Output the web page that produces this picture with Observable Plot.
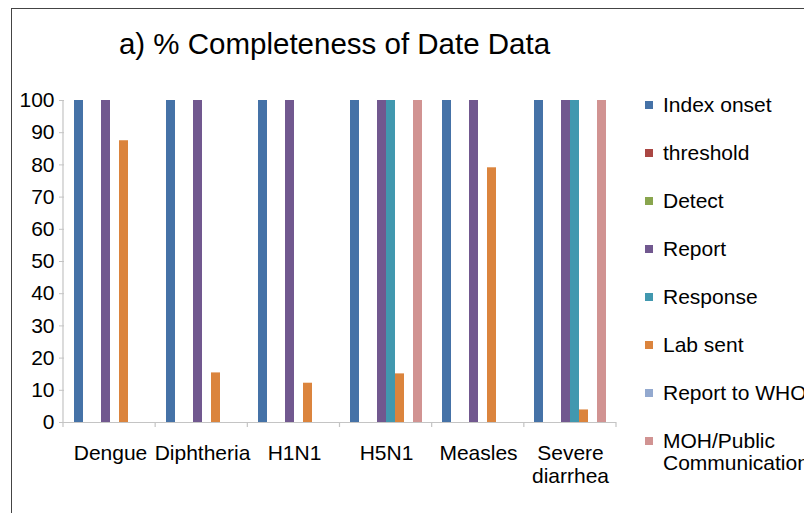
<!DOCTYPE html>
<html>
<head>
<meta charset="utf-8">
<script src="https://cdn.jsdelivr.net/npm/d3@7"></script>
<script src="https://cdn.jsdelivr.net/npm/@observablehq/plot@0.6"></script>
<style>
  html, body { margin: 0; padding: 0; background: #fff; }
  body { width: 804px; height: 513px; overflow: hidden; position: relative; font-family: "Liberation Sans", Arial, sans-serif; }
  #frame { position: absolute; left: 11px; top: 8px; width: 900px; height: 600px; border-left: 1.5px solid #444; border-top: 1.5px solid #444; }
  #title { position: absolute; left: 0; width: 669px; text-align: center; top: 29px; font-size: 29.5px; line-height: 29.5px; color: #000; white-space: nowrap; }
  #chart { position: absolute; left: 0; top: 0; }
  .leg { position: absolute; left: 645px; display: flex; align-items: flex-start; white-space: nowrap; font-size: 21px; line-height: 22px; color: #000; }
  .sw { width: 8px; height: 8px; margin-top: 7px; margin-right: 10px; flex: none; }
  g[aria-label="y-axis tick"] path { stroke: #c4c4c4; }
</style>
</head>
<body>
<div id="frame"></div>
<div id="chart"></div>
<div id="title">a) % Completeness of Date Data</div>
<div id="legend"></div>
<script>
const categories = ["Dengue", "Diphtheria", "H1N1", "H5N1", "Measles", "Severe diarrhea"];
const categoryLabels = ["Dengue", "Diphtheria", "H1N1", "H5N1", "Measles", "Severe\ndiarrhea"];
const series = ["Index onset", "threshold", "Detect", "Report", "Response", "Lab sent", "Report to WHO", "MOH/Public Communication"];
const legendLabels = ["Index onset", "threshold", "Detect", "Report", "Response", "Lab sent", "Report to WHO", "MOH/Public<br>Communication"];
const colors = ["#4572A7", "#AA4643", "#89A54E", "#71588F", "#4198AF", "#DB843D", "#93A9CF", "#D19392"];
const yTicks = [0, 10, 20, 30, 40, 50, 60, 70, 80, 90, 100];

const indexOnset = [100, 100, 100, 100, 100, 100];
const threshold = [null, null, null, null, null, null];
const detect = [null, null, null, null, null, null];
const report = [100, 100, 100, 100, 100, 100];
const response = [null, null, null, 100, null, 100];
const labSent = [87.5, 15.4, 12.2, 15.1, 79.1, 3.9];
const reportToWHO = [null, null, null, null, null, null];
const mohPublic = [null, null, null, 100, null, 100];

const seriesValues = [indexOnset, threshold, detect, report, response, labSent, reportToWHO, mohPublic];

const rows = [];
series.forEach((s, si) => {
  categories.forEach((c, ci) => {
    const v = seriesValues[si][ci];
    if (v != null) rows.push({category: c, series: s, value: v});
  });
});

const W = 804, H = 513;
const chart = Plot.plot({
  width: W,
  height: H,
  marginLeft: 63,
  marginRight: 188,
  marginTop: 100,
  marginBottom: 91,
  style: {fontFamily: "'Liberation Sans', Arial, sans-serif", fontSize: "21px", color: "#000", background: "transparent", overflow: "visible"},
  fx: {domain: categories, padding: 0, label: null, axis: null},
  x: {domain: series, paddingInner: 0, paddingOuter: 0.8, axis: null},
  y: {domain: [0, 100], ticks: yTicks, tickSize: 5, tickPadding: 5, label: null},
  color: {domain: series, range: colors},
  marks: [
    Plot.axisFx({anchor: "bottom", tickSize: 0, tickPadding: 21, label: null, lineHeight: 1.1,
                 tickFormat: d => categoryLabels[categories.indexOf(d)]}),
    Plot.ruleY([0], {stroke: "#c4c4c4", strokeWidth: 1.2}),
    Plot.barY(rows, {fx: "category", x: "series", y: "value", fill: "series"})
  ]
});
document.getElementById("chart").appendChild(chart);

// axis line on the left and category boundary ticks, placed through the plot's scales
const fxs = chart.scale("fx");
const ys = chart.scale("y");
const bx = d3.scaleBand().domain(fxs.domain).range(fxs.range).paddingInner(fxs.paddingInner ?? 0).paddingOuter(fxs.paddingOuter ?? 0).align(fxs.align ?? 0.5);
const yl = d3.scaleLinear().domain(ys.domain).range(ys.range);
const svg = d3.select(chart);
const g = svg.append("g").attr("stroke", "#c4c4c4").attr("stroke-width", 1.2);
const x0 = bx(fxs.domain[0]);
g.append("line").attr("x1", x0).attr("x2", x0).attr("y1", yl(0)).attr("y2", yl(100));
const bounds = fxs.domain.map(d => bx(d)).concat([bx(fxs.domain[fxs.domain.length - 1]) + bx.bandwidth()]);
g.selectAll("line.b").data(bounds).join("line").attr("class", "b")
  .attr("x1", d => d).attr("x2", d => d).attr("y1", yl(0)).attr("y2", yl(0) + 5);

// legend
const legend = document.getElementById("legend");
series.forEach((s, i) => {
  const row = document.createElement("div");
  row.className = "leg";
  row.style.top = (105 + i * 48 - 11) + "px";
  row.innerHTML = `<span class="sw" style="background:${colors[i]}"></span><span>${legendLabels[i]}</span>`;
  legend.appendChild(row);
});
</script>
</body>
</html>
